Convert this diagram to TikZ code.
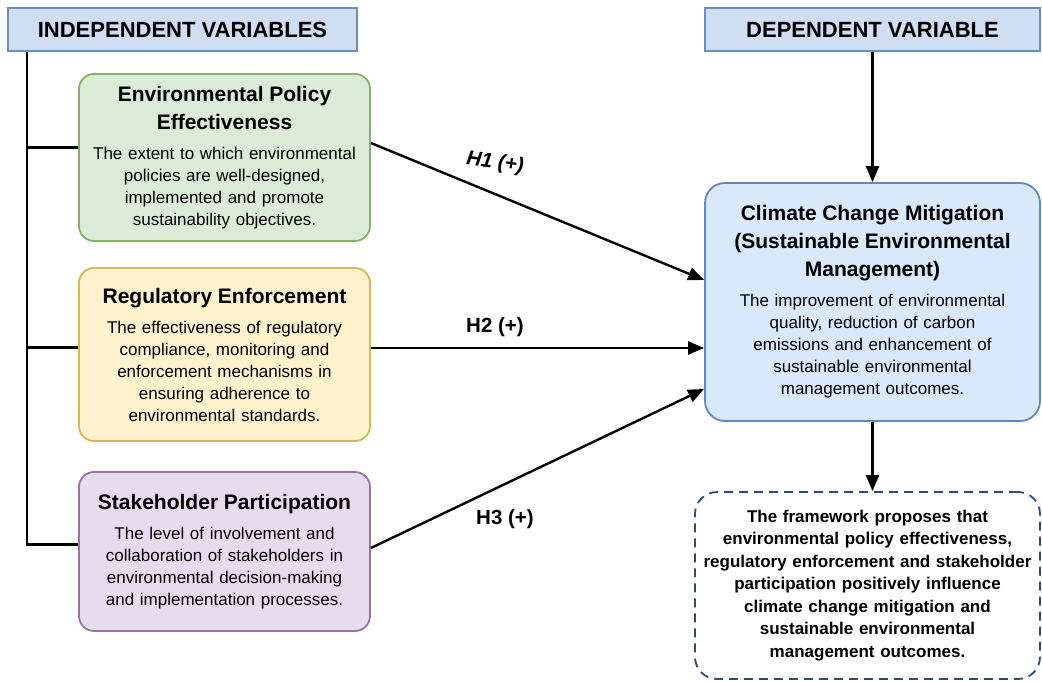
\documentclass[tikz,border=0pt]{standalone}
\usepackage{fontspec}
\setmainfont{Liberation Sans}
\usetikzlibrary{arrows.meta}
\definecolor{hdrfill}{HTML}{D0DDF2}
\definecolor{hdrline}{HTML}{6C8EBF}
\definecolor{epefill}{HTML}{DCEBD7}
\definecolor{epeline}{HTML}{82B366}
\definecolor{refill}{HTML}{FFF2CC}
\definecolor{reline}{HTML}{D6B656}
\definecolor{spfill}{HTML}{E6DCEE}
\definecolor{spline}{HTML}{9673A6}
\definecolor{ccmfill}{HTML}{DAE8FC}
\definecolor{ccmline}{HTML}{5F87C4}
\definecolor{noteline}{HTML}{2E4A7A}
\newcommand{\vtitle}[1]{{\fontsize{21}{28}\selectfont\bfseries #1\par}\vspace{8pt}}
\tikzset{
 hdr/.style={draw=hdrline,fill=hdrfill,line width=1.5pt,minimum height=43pt,inner sep=0pt,font=\fontsize{22}{26}\selectfont\bfseries},
 varbox/.style={rounded corners=15pt,line width=1.8pt,text width=275pt,align=center,inner xsep=8pt,inner ysep=0pt,font=\fontsize{17}{22}\selectfont},
 link/.style={line width=2.4pt},
 hyp/.style={link,-{Triangle[length=16pt,width=13pt]}},
 hlabel/.style={font=\fontsize{20.5}{24}\selectfont\bfseries}
}
\begin{document}
\begin{tikzpicture}[x=1pt,y=-1pt]
 \useasboundingbox (0,0) rectangle (1042,682);
 \node[hdr,minimum width=349pt] (ivhead) at (182.5,29.5) {INDEPENDENT VARIABLES};
 \node[hdr,minimum width=335pt] (dvhead) at (872.5,29.5) {DEPENDENT VARIABLE};
 \node[varbox,draw=epeline,fill=epefill,minimum height=167pt] (epe) at (224.5,157.5) {\vtitle{Environmental Policy\\Effectiveness}The extent to which environmental\\policies are well-designed,\\implemented and promote\\sustainability objectives.};
 \node[varbox,draw=reline,fill=refill,minimum height=173pt] (re) at (224.5,354.5) {\vtitle{Regulatory Enforcement}The effectiveness of regulatory\\compliance, monitoring and\\enforcement mechanisms in\\ensuring adherence to\\environmental standards.};
 \node[varbox,draw=spline,fill=spfill,minimum height=159pt] (sp) at (224.5,551.5) {\vtitle{Stakeholder Participation}The level of involvement and\\collaboration of stakeholders in\\environmental decision-making\\and implementation processes.};
 \node[varbox,draw=ccmline,fill=ccmfill,text width=315pt,inner xsep=10pt,minimum height=238pt,rounded corners=20pt] (ccm) at (872.5,302) {\vtitle{Climate Change Mitigation\\(Sustainable Environmental\\Management)}The improvement of environmental\\quality, reduction of carbon\\emissions and enhancement of\\sustainable environmental\\management outcomes.};
 \node[varbox,draw=noteline,dashed,dash pattern=on 9pt off 6pt,fill=white,text width=335pt,inner xsep=5pt,minimum height=187pt,rounded corners=22pt,font=\fontsize{17}{22.5}\selectfont\bfseries] (note) at (867.5,585.5) {The framework proposes that\\environmental policy effectiveness,\\regulatory enforcement and stakeholder\\participation positively influence\\climate change mitigation and\\sustainable environmental\\management outcomes.};
 \coordinate (trunk) at ([xshift=20pt]ivhead.south west);
 \coordinate (epein) at ([yshift=10pt]epe.west);
 \coordinate (rein) at ([yshift=7pt]re.west);
 \draw[link] (trunk) |- ([yshift=7pt]sp.west);
 \draw[link] (epein) -- (epein -| trunk);
 \draw[link] (rein) -- (rein -| trunk);
 \draw[hyp] (dvhead.south) -- (ccm.north);
 \draw[hyp] (ccm.south) -- (ccm.south |- note.north);
 \draw[hyp] ([yshift=14.5pt]epe.east) -- ([yshift=22pt]ccm.west);
 \draw[hyp] ([yshift=6.5pt]re.east) -- ([yshift=-46pt]ccm.west);
 \draw[hyp] ([yshift=3.5pt]sp.east) -- ([yshift=-87pt]ccm.west);
 \node[hlabel,rotate=-8] (h1) at (495,163) {\itshape H1 (+)};
 \node[hlabel] (h2) at (495,327) {H2 (+)};
 \node[hlabel] (h3) at (505,519) {H3 (+)};
\end{tikzpicture}
\end{document}
